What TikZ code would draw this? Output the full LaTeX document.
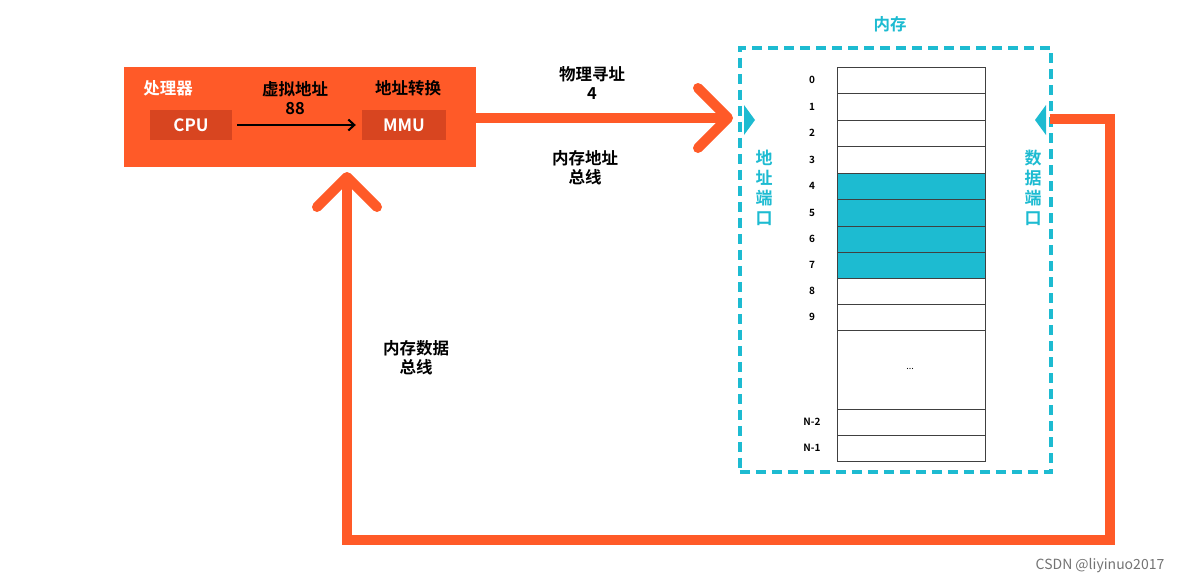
\documentclass[tikz,border=0pt]{standalone}
\usepackage{fontspec}
\setmainfont{Noto Sans CJK SC}[BoldFont={Noto Sans CJK SC Bold}]
\usetikzlibrary{arrows.meta}
\definecolor{org}{HTML}{FF5A28}
\definecolor{dorg}{HTML}{D84520}
\definecolor{teal}{HTML}{1DBBD1}
\begin{document}
\begin{tikzpicture}[x=1pt,y=-1pt,
 lab/.style={font=\bfseries\fontsize{16.5}{19}\selectfont,align=center},
 num/.style={font=\bfseries\fontsize{10}{12}\selectfont},
 cell/.style={draw=black!75,line width=0.8pt,minimum width=148pt,inner sep=0pt,anchor=north west},
 bus/.style={draw=org,line width=10pt},
 chev/.style={-{Straight Barb[length=30pt,width=60pt,line width=10pt,round]}}]
\useasboundingbox (0,0) rectangle (1184,584);
\node[fill=org,minimum width=352pt,minimum height=100pt,anchor=north west,inner sep=0pt] (proc) at (124,67) {};
\node[fill=dorg,minimum width=82pt,minimum height=30pt,text=white,font=\bfseries\fontsize{17}{19}\selectfont] (cpu) at (191,125) {CPU};
\node[fill=dorg,minimum width=84pt,minimum height=30pt,text=white,font=\bfseries\fontsize{17}{19}\selectfont] (mmu) at (404,125) {MMU};
\draw[line width=2pt,-{Straight Barb[length=6pt,width=11pt]}] (cpu.east)++(5,0) coordinate (c1) -- ([xshift=-6pt]mmu.west) coordinate (m1);
\node[lab,text=white] (pt) at (168,88) {处理器};
\node[lab] (va) at (295,98) {虚拟地址\\88};
\node[lab] (tr) at (408,88) {地址转换};
% memory
\node[draw=teal,line width=3.5pt,dash pattern=on 10pt off 6pt,minimum width=311pt,minimum height=424pt,anchor=north west,inner sep=0pt] (mem) at (738,46) {};
\node[lab,text=teal] (memt) at (890,24) {内存};
\foreach \i/\t/\y/\h/\f in {0/0/67/26/white,1/1/93/27/white,2/2/120/26/white,3/3/146/27/white,4/4/173/26/teal,5/5/199/27/teal,6/6/226/26/teal,7/7/252/26/teal,8/8/278/26/white,9/9/304/26/white,d//330/79/white,n2/N-2/409/26/white,n1/N-1/435/26/white}{
  \node[cell,fill=\f,minimum height=\h pt] (c\i) at (837,\y) {};
  \node[num] (l\i) at (812,\y+\h/2) {\t};
}
\node[font=\fontsize{9}{10}\selectfont] (dots) at (910,369) {...};
\fill[teal] (744,105) -- (755,120) -- (744,135) -- cycle;
\fill[teal] (1046,105) -- (1035,120) -- (1046,135) -- cycle;
\node[lab,text=teal,font=\bfseries\fontsize{17}{20}\selectfont] (ap) at (764,188) {地\\址\\端\\口};
\node[lab,text=teal,font=\bfseries\fontsize{17}{20}\selectfont] (dp) at (1033,188) {数\\据\\端\\口};
% address bus
\coordinate (a0) at (476,118);
\coordinate (a1) at (733,118);
\draw[bus,chev] (a0) -- (a1);
\node[lab] (pa) at (592,83) {物理寻址\\4};
\node[lab] (ab) at (585,168) {内存地址\\总线};
% data bus
\coordinate (d0) at (1050,119);
\coordinate (d1) at (1110,119);
\coordinate (d2) at (1110,540);
\coordinate (d3) at (347,540);
\coordinate (d4) at (347,172);
\draw[bus,line join=miter,chev] (d0) -- (d1) -- (d2) -- (d3) -- (d4);
\node[lab] (db) at (416,358) {内存数据\\总线};
\node[text=black!55,font=\fontsize{14}{16}\selectfont] (wm) at (1100,566) {CSDN @liyinuo2017};
\end{tikzpicture}
\end{document}
